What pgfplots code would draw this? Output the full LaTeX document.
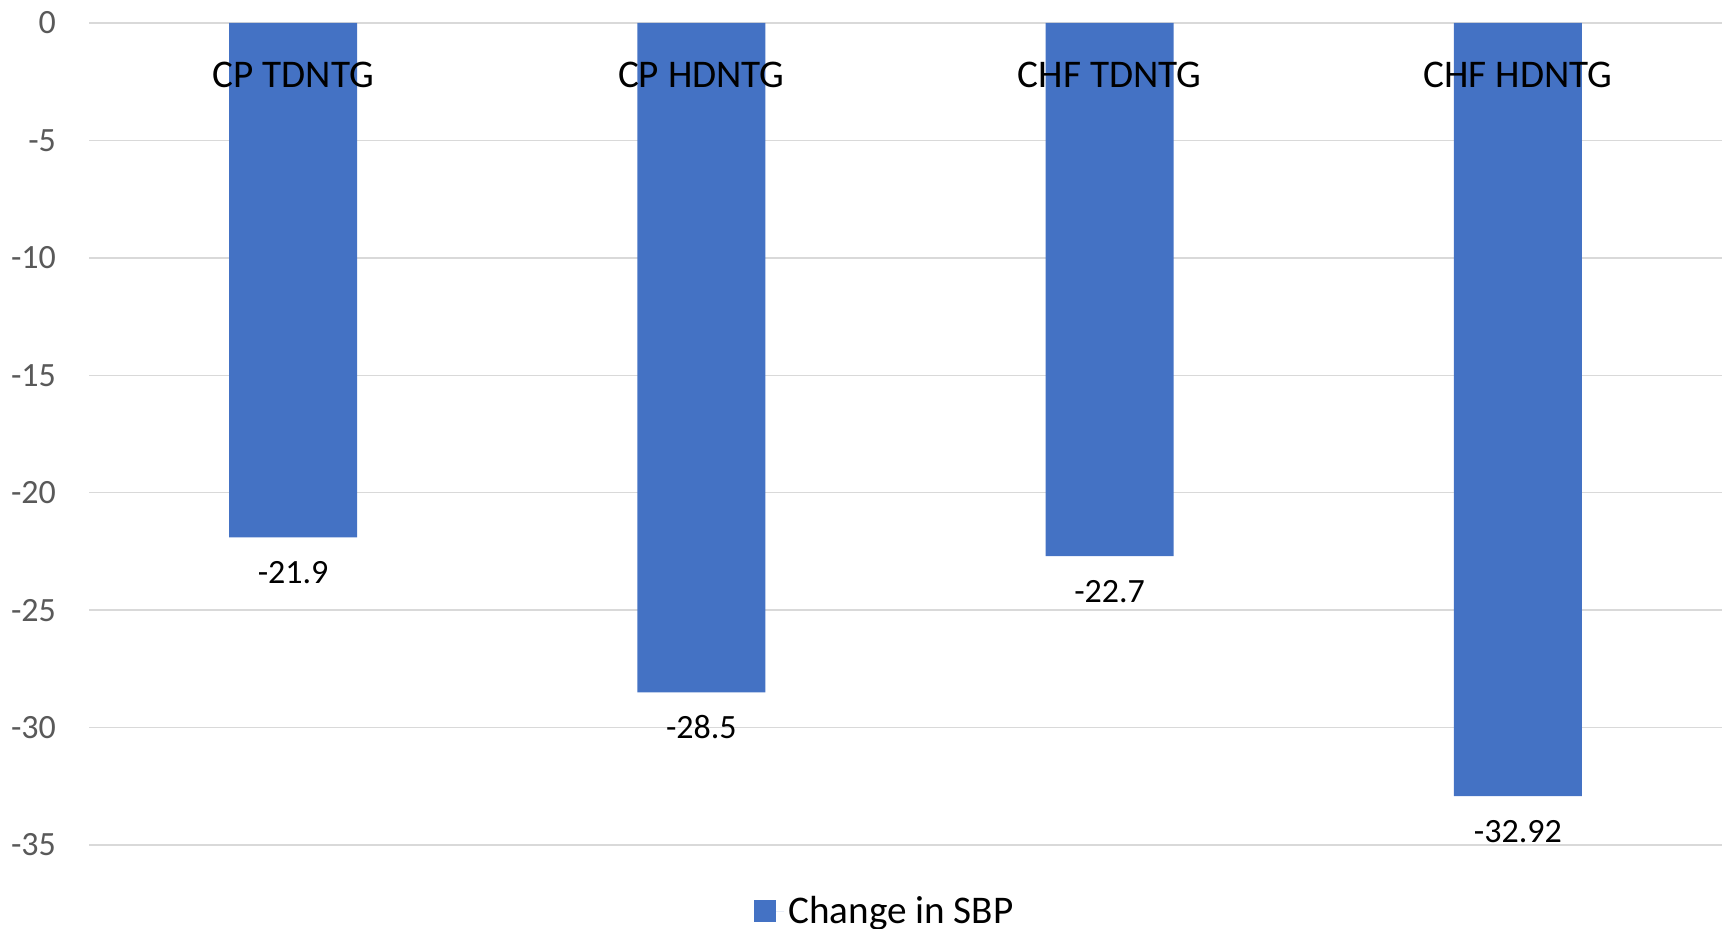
\documentclass[border=0pt]{standalone}
\usepackage{pgfplots}
\pgfplotsset{compat=1.18}
\usepackage{fontspec}
\setmainfont{Carlito}
\definecolor{barblue}{HTML}{4472C4}
\definecolor{gridgray}{HTML}{D9D9D9}
\definecolor{ticktext}{HTML}{595959}
\begin{document}
\begin{tikzpicture}
\path[use as bounding box] (-44.5pt,-42pt) rectangle (816.5pt,422.5pt);
\begin{axis}[
  scale only axis,
  width=816.5pt, height=411pt,
  xmin=-0.5, xmax=3.5,
  ymin=-35, ymax=0,
  ytick={0,-5,-10,-15,-20,-25,-30,-35},
  xtick=\empty,
  yticklabel style={font=\fontsize{17}{20}\selectfont, text=ticktext, xshift=-13pt},
  /pgf/number format/assume math mode=true,
  axis line style={draw=none},
  major tick length=0pt,
  ymajorgrids,
  major grid style={gridgray, line width=0.75pt},
  ybar, bar width=64pt,
  nodes near coords={\pgfmathprintnumber[assume math mode=true]{\pgfplotspointmeta}},
  every node near coord/.append style={anchor=center, yshift=-17.5pt, font=\fontsize{17}{20}\selectfont, text=black},
  clip=false,
  legend style={at={(0.488,-0.0803)}, anchor=center, draw=none, fill=none, font=\fontsize{19.6}{23}\selectfont, legend cell align=left},
  legend image code/.code={\fill[#1] (0pt,-5.5pt) rectangle (11pt,5.5pt); \path (0pt,0pt) -- (15pt,0pt);},
]
\addplot[fill=barblue, draw=none] coordinates {(0,-21.9) (1,-28.5) (2,-22.7) (3,-32.92)};
\addlegendentry{Change in SBP}
% category names, set over the bars near the zero line
\foreach \i/\name in {0/CP TDNTG, 1/CP HDNTG, 2/CHF TDNTG, 3/CHF HDNTG} {
  \edef\tmp{\noexpand\node[font=\noexpand\fontsize{19.6}{23}\noexpand\selectfont, text=black, anchor=center] at (axis cs:\i,-2.2) {\name};}
  \tmp
}
\end{axis}
\end{tikzpicture}
\end{document}
